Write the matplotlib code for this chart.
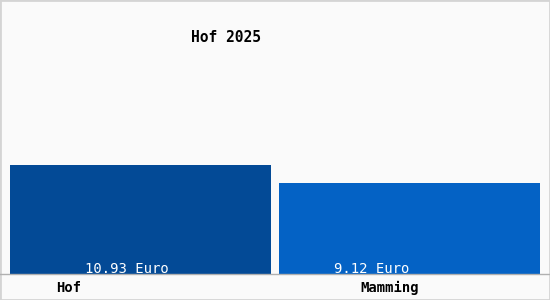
import matplotlib
matplotlib.use('Agg')
import matplotlib.pyplot as plt
from matplotlib.patches import Rectangle

orte = ['Hof', 'Mamming']
preise = [10.93, 9.12]
werte_text = ['10.93 Euro', '9.12 Euro']
titel = 'Hof 2025'
farben = ['#034a96', '#0462c5']

fig = plt.figure(figsize=(5.5, 3.0), dpi=100, facecolor='#fafafa')
# Achse: unten bei y=274 px, oben am Bildrand
ax = fig.add_axes([6 / 550, 26 / 300, 538 / 550, 274 / 300])
ax.set_facecolor('#fafafa')

x = list(range(len(orte)))
ax.bar(x, preise, width=0.967, color=farben)
ax.set_xlim(-0.5, 1.5)
ax.set_ylim(0, 27.47)
ax.axis('off')

# Werte in den Balken (leicht nach links versetzt wie im Original)
versatz = [0.05, 0.14]
for i, txt in enumerate(werte_text):
    ax.text(x[i] - versatz[i], 0.15, txt, color='white', ha='center', va='baseline',
            fontsize=10, family='DejaVu Sans Mono')

# Grundlinie
fig.add_artist(plt.Line2D([0, 1], [26 / 300, 26 / 300], color='#b0b0b0', lw=1))

# Beschriftungen unten
label_x = [69, 390]
for lx, ort in zip(label_x, orte):
    fig.text(lx / 550, 12 / 300, ort, ha='center', va='center', fontsize=10,
             family='DejaVu Sans Mono', fontweight='bold')

fig.text(226 / 550, 262 / 300, titel, ha='center', va='center', fontsize=10.5,
         family='DejaVu Sans Mono', fontweight='bold')

# Rahmen
fig.add_artist(Rectangle((0, 0), 1, 1, transform=fig.transFigure, fill=False,
                         edgecolor='#d4d4d4', lw=2))

fig.savefig('out.png', dpi=100, facecolor=fig.get_facecolor())
